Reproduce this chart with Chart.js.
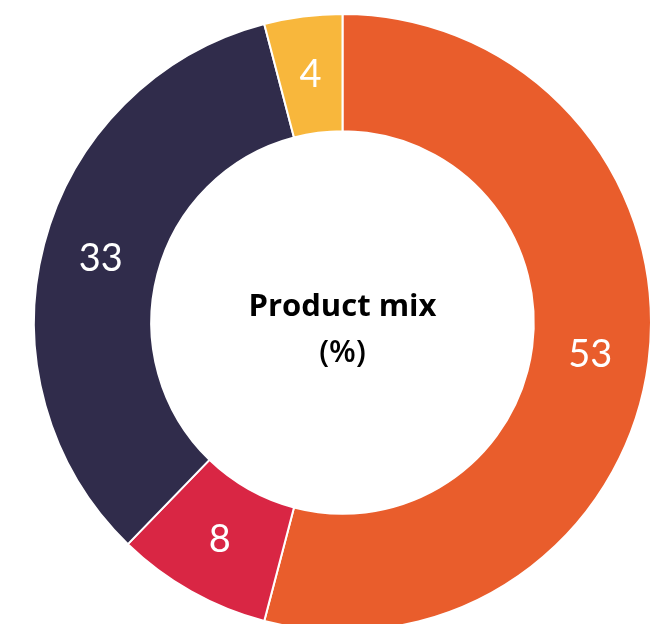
<!DOCTYPE html>
<html>
<head>
<meta charset="utf-8">
<script src="https://cdn.jsdelivr.net/npm/chart.js@4.4.1/dist/chart.umd.min.js"></script>
<style>
  html, body { margin: 0; padding: 0; background: #ffffff; overflow: hidden; width: 664px; height: 624px; }
  #wrap { position: relative; width: 664px; height: 660px; }
  canvas { display: block; }
</style>
</head>
<body>
<div id="wrap"><canvas id="c" width="664" height="660"></canvas></div>
<script>
const categories = ["Segment A", "Segment B", "Segment C", "Segment D"];
const values = [53, 8, 33, 4];
const sliceColors = ["#E95D2C", "#D92644", "#302C4B", "#F8B73C"];
const centerTitle = "Product mix";
const centerSubtitle = "(%)";

const labelPlugin = {
  id: 'sliceLabels',
  afterDatasetsDraw(chart) {
    const ctx = chart.ctx;
    const meta = chart.getDatasetMeta(0);
    ctx.save();
    ctx.fillStyle = '#ffffff';
    ctx.font = '400 38px Lato, "Open Sans", sans-serif';
    ctx.textAlign = 'center';
    ctx.textBaseline = 'middle';
    meta.data.forEach((arc, i) => {
      const p = arc.tooltipPosition();
      ctx.fillText(String(values[i]), p.x, p.y);
    });
    // center text
    const a = meta.data[0];
    const cx = a.x, cy = a.y;
    ctx.fillStyle = '#000000';
    ctx.textBaseline = 'alphabetic';
    ctx.font = '700 31px "Open Sans", Lato, sans-serif';
    ctx.fillText(centerTitle, cx, cy - 7);
    ctx.font = '600 31px "Open Sans", Lato, sans-serif';
    ctx.fillText(centerSubtitle, cx, cy + 39);
    ctx.restore();
  }
};

new Chart(document.getElementById('c'), {
  type: 'doughnut',
  data: {
    labels: categories,
    datasets: [{
      data: values,
      backgroundColor: sliceColors,
      borderColor: '#ffffff',
      borderWidth: 2
    }]
  },
  options: {
    responsive: false,
    animation: false,
    cutout: '62%',
    layout: { padding: { left: 33, right: 12, top: 13, bottom: 28 } },
    plugins: { legend: { display: false }, tooltip: { enabled: false } }
  },
  plugins: [labelPlugin]
});
</script>
</body>
</html>
